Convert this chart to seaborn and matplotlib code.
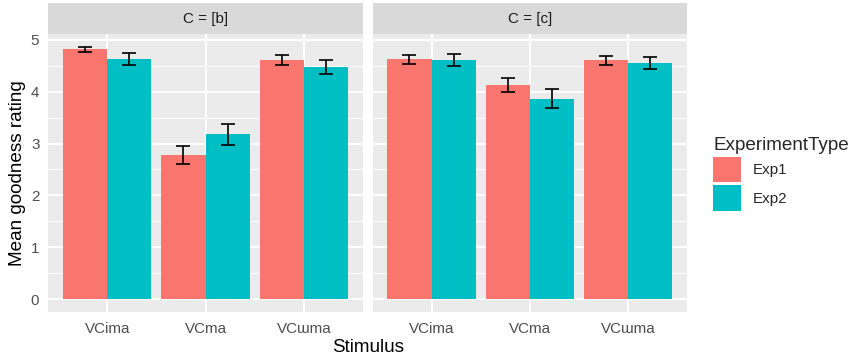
import pandas as pd
import matplotlib
matplotlib.use("Agg")
import matplotlib.pyplot as plt
import seaborn as sns
from matplotlib.patches import Patch
from matplotlib.ticker import MultipleLocator

stimuli = ["VCima", "VCma", "VCɯma"]
conditions = ["C = [b]", "C = [c]"]
experiments = ["Exp1", "Exp2"]

b_exp1_mean = [4.81, 2.78, 4.61]
b_exp1_se = [0.055, 0.165, 0.095]
b_exp2_mean = [4.63, 3.18, 4.47]
b_exp2_se = [0.12, 0.20, 0.135]

c_exp1_mean = [4.62, 4.13, 4.60]
c_exp1_se = [0.085, 0.14, 0.09]
c_exp2_mean = [4.61, 3.86, 4.55]
c_exp2_se = [0.12, 0.185, 0.12]

colors = {"Exp1": "#F8766D", "Exp2": "#00BFC4"}

W, H = 855, 356
TICK_SIZE = 10.9
TITLE_SIZE = 13.6


def build_frame():
    table = {
        ("C = [b]", "Exp1"): (b_exp1_mean, b_exp1_se),
        ("C = [b]", "Exp2"): (b_exp2_mean, b_exp2_se),
        ("C = [c]", "Exp1"): (c_exp1_mean, c_exp1_se),
        ("C = [c]", "Exp2"): (c_exp2_mean, c_exp2_se),
    }
    rows = []
    for (cond, exp), (means, ses) in table.items():
        for stim, m, s in zip(stimuli, means, ses):
            rows.append({"C": cond, "ExperimentType": exp, "Stimulus": stim,
                         "Mean": m, "SE": s})
    return pd.DataFrame(rows)


def draw_panel(ax, sub, ylim, show_y):
    sns.barplot(data=sub, x="Stimulus", y="Mean", hue="ExperimentType",
                order=stimuli, hue_order=experiments, palette=colors,
                width=0.9, errorbar=None, linewidth=0, saturation=1,
                legend=False, ax=ax)
    for container, exp in zip(ax.containers, experiments):
        part = sub[sub["ExperimentType"] == exp].set_index("Stimulus").loc[stimuli]
        xs = [bar.get_x() + bar.get_width() / 2 for bar in container]
        ax.errorbar(xs, part["Mean"], yerr=part["SE"], fmt="none",
                    ecolor="black", elinewidth=1.2, capsize=5, capthick=1.2,
                    zorder=3)

    ax.set_xlim(-0.6, len(stimuli) - 0.4)
    ax.set_ylim(*ylim)
    ax.yaxis.set_major_locator(MultipleLocator(1))
    ax.yaxis.set_minor_locator(MultipleLocator(0.5))
    ax.set_facecolor("#EBEBEB")
    ax.grid(which="major", color="white", linewidth=1.4)
    ax.grid(which="minor", axis="y", color="white", linewidth=0.7)
    ax.set_axisbelow(True)
    for sp in ax.spines.values():
        sp.set_visible(False)
    ax.tick_params(which="major", length=3.4, width=1.0, color="#333333",
                   labelcolor="#4D4D4D", labelsize=TICK_SIZE, pad=3.0)
    ax.tick_params(which="minor", length=0)
    ax.tick_params(axis="x", pad=4.0)
    if not show_y:
        ax.tick_params(axis="y", left=False, labelleft=False)
    ax.set_xlabel("")
    ax.set_ylabel("")


def main():
    sns.set_theme(style="darkgrid")
    plt.rcParams["font.family"] = ["Liberation Sans", "DejaVu Sans"]

    df = build_frame()
    top = (df["Mean"] + df["SE"]).max()
    ylim = (-0.05 * top, top * 1.05)

    fig = plt.figure(figsize=(W / 100, H / 100), dpi=100)
    fig.patch.set_facecolor("white")

    lefts = [48.2, 372.6]
    panel_w = 314.6
    panel_top, panel_bottom = 34.0, 312.0
    strip_top = 3.2

    for i, (cond, left) in enumerate(zip(conditions, lefts)):
        ax = fig.add_axes([left / W, 1 - panel_bottom / H, panel_w / W,
                           (panel_bottom - panel_top) / H])
        draw_panel(ax, df[df["C"] == cond], ylim, show_y=(i == 0))

        strip = fig.add_axes([left / W, 1 - panel_top / H, panel_w / W,
                              (panel_top - strip_top) / H])
        strip.set_facecolor("#D9D9D9")
        strip.set_xticks([])
        strip.set_yticks([])
        strip.grid(False)
        for sp in strip.spines.values():
            sp.set_visible(False)
        strip.text(0.5, 0.5, cond, ha="center", va="center",
                   fontsize=TICK_SIZE, color="#1A1A1A", transform=strip.transAxes)

    mid_y = 1 - (panel_top + panel_bottom) / 2 / H
    fig.text(18 / W, mid_y, "Mean goodness rating", rotation=90,
             ha="center", va="center", fontsize=TITLE_SIZE, color="black")
    fig.text((lefts[0] + lefts[1] + panel_w) / 2 / W, 4.5 / H, "Stimulus",
             ha="center", va="baseline", fontsize=TITLE_SIZE, color="black")

    handles = [Patch(facecolor=colors[e], edgecolor="none", label=e)
               for e in experiments]
    fig.legend(handles=handles, title="ExperimentType", loc="upper left",
               bbox_to_anchor=(713 / W, 1 - 137 / H), frameon=False,
               fontsize=TICK_SIZE, title_fontsize=TITLE_SIZE,
               handlelength=1.85, handleheight=2.2, labelspacing=0.2,
               handletextpad=0.75, borderpad=0, borderaxespad=0,
               alignment="left")

    fig.savefig("out.png", dpi=100)
    plt.close(fig)


if __name__ == "__main__":
    main()
